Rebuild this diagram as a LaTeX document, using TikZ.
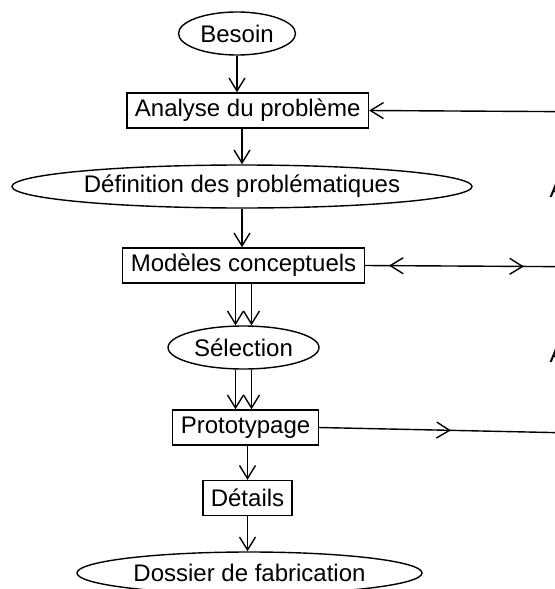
\documentclass[tikz,border=0pt]{standalone}
\usepackage{fontspec}
\setmainfont{Liberation Sans}
\usetikzlibrary{arrows.meta, shapes.geometric, decorations.markings, positioning}

\tikzset{
  >={Straight Barb[length=6.5pt,width=8pt]},
  box/.style={draw, rectangle, inner xsep=4pt, inner ysep=0pt, minimum height=17.5pt},
  blob/.style={draw, ellipse, inner sep=0pt, minimum height=21.5pt},
  flow/.style={->},
}

\begin{document}
\begin{tikzpicture}[x=0.5pt, y=-0.5pt, line width=0.7pt, font=\fontsize{12}{14}\selectfont]
    \useasboundingbox (0,0) rectangle (555,589);

    \node[blob, minimum width=58.5pt] (besoin) at (237, 33.5) {Besoin};
    \node[box] (analyse) at (247.7, 110.5) {Analyse du problème};
    \node[blob, minimum width=230pt] (definition) at (242, 186.5) {Définition des problématiques};
    \node[box] (modeles) at (243.5, 265.5) {Modèles conceptuels};
    \node[blob, minimum width=75.5pt] (selection) at (243.5, 347.5) {Sélection};
    \node[box] (prototypage) at (245.5, 427.5) {Prototypage};
    \node[box] (details) at (247.5, 498) {Détails};
    \node[blob, minimum width=172.5pt, minimum height=21pt] (dossier) at (249.5, 573) {Dossier de fabrication};

    % texts beyond the right edge
    \node[anchor=base west, inner sep=0pt] (horsA) at (549, 197) {A};
    \node[anchor=base west, inner sep=0pt] (horsB) at (549, 362) {A};

    \coordinate (analyseout) at (620, 112);
    \coordinate (modelesout) at (620, 267);
    \coordinate (prototypageout) at (620, 434);

    \draw[flow] (besoin.south) -- (besoin.south |- analyse.north);
    \draw[flow] (analyse.south -| definition) -- (definition.north);
    \draw[flow] (definition.south) -- (definition.south |- modeles.north);
    \draw[flow] ([xshift=-4pt]modeles.south) -- ([xshift=-4pt]modeles.south |- selection.north);
    \draw[flow] ([xshift=4pt]modeles.south) -- ([xshift=4pt]modeles.south |- selection.north);
    \draw[flow] ([xshift=-4pt]selection.south) -- ([xshift=-4pt]selection.south |- prototypage.north);
    \draw[flow] ([xshift=4pt]selection.south) -- ([xshift=4pt]selection.south |- prototypage.north);
    \draw[flow] (prototypage.south -| details) -- (details.north);
    \draw[flow] (details.south) -- (details.south |- dossier.north);

    \draw[<-] (analyse.east) -- (analyseout);
    \draw[postaction={decorate, decoration={markings,
            mark=at position 12pt with {\arrowreversed{>}},
            mark=at position 79.5pt with {\arrow{>}}}}]
        (modeles.east) -- (modelesout);
    \draw[postaction={decorate, decoration={markings,
            mark=at position 66pt with {\arrow{>}}}}]
        (prototypage.east) -- (prototypageout);
\end{tikzpicture}
\end{document}
